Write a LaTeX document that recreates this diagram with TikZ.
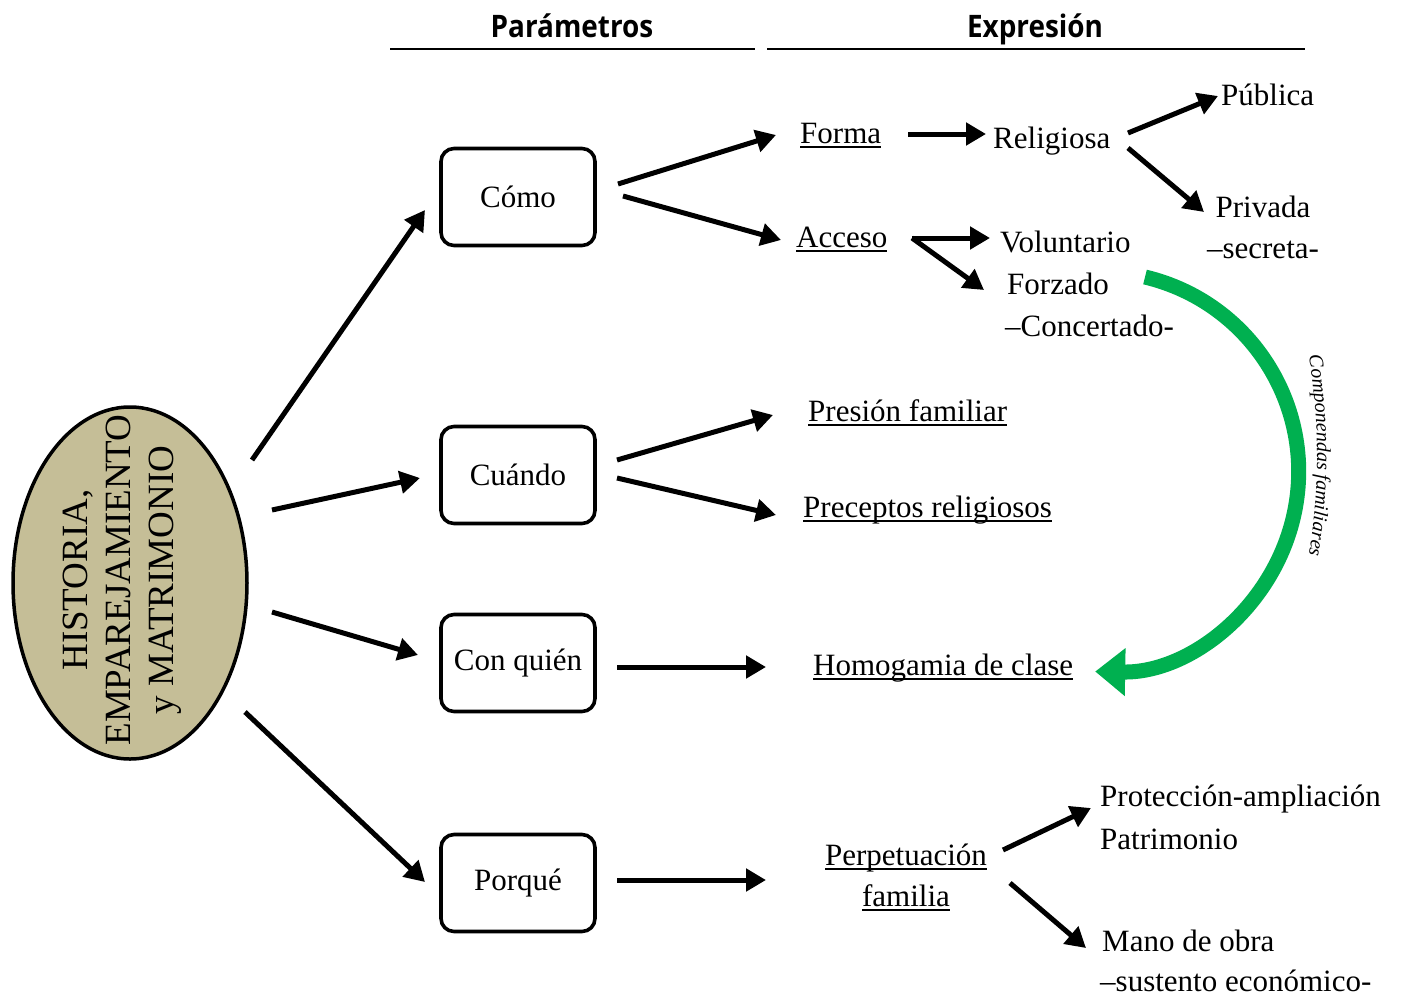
\documentclass[tikz,border=0pt]{standalone}
\usepackage{fontspec}
\setmainfont{Liberation Serif}
\newfontfamily\hdrfont{Open Sans}
\usetikzlibrary{arrows.meta,shapes.geometric,decorations.text}
\definecolor{elltan}{RGB}{197,190,151}
\definecolor{grn}{RGB}{0,176,80}
\newcommand\myul[1]{\setbox0\hbox{#1}\rlap{\rule[-5pt]{\wd0}{1.6pt}}\box0}
\begin{document}
\begin{tikzpicture}[x=1pt,y=-1pt,
  txt/.style={font=\fontsize{31}{37}\selectfont, inner sep=0pt, anchor=base west},
  ctxt/.style={font=\fontsize{31}{37}\selectfont, inner sep=0pt, anchor=base},
  box/.style={draw, line width=3.6pt, rounded corners=13pt, minimum width=154pt,
    minimum height=97pt, inner sep=0pt, font=\fontsize{31}{37}\selectfont},
  hdr/.style={font=\hdrfont\bfseries\fontsize{31}{36}\selectfont, inner sep=0pt, anchor=base},
  arr/.style={line width=5pt, -{Triangle[length=20pt,width=22pt]}},
  garr/.style={line width=15pt, grn, -{Triangle[length=30pt,width=46pt]}},
]
\fill[white] (0,0) rectangle (1408,996);
\useasboundingbox (0,0) rectangle (1408,996);

% headers
\node[hdr] (hpar) at (572,37) {\scalebox{0.9}[1]{Parámetros}};
\node[hdr] (hexp) at (1035,37) {\scalebox{0.9}[1]{Expresión}};
\draw[line width=1.3pt] (390,49) -- (755,49);
\draw[line width=1.3pt] (767,49) -- (1305,49);

% ellipse
\node[ellipse, draw, line width=3.5pt, fill=elltan, minimum width=234pt,
  minimum height=352pt, inner sep=0pt] (ell) at (130,583) {};
\node[rotate=90, align=center, inner sep=0pt, font=\fontsize{37}{43}\selectfont]
  (elltxt) at (122,580) {HISTORIA,\\EMPAREJAMIENTO\\y MATRIMONIO};

% boxes
\node[box] (como) at (518,197) {Cómo};
\node[box] (cuando) at (518,475) {Cuándo};
\node[box] (conq) at (518,663) {Con quién};
\node[box] (porq) at (518,883) {Porqué};

% text nodes
\node[txt] (forma) at (800,143) {\myul{Forma}};
\node[txt] (acceso) at (796,247) {\myul{Acceso}};
\node[txt] (relig) at (993,148) {Religiosa};
\node[txt] (publica) at (1221,105) {Pública};
\node[ctxt] (privada) at (1263,217) {Privada};
\node[ctxt] (secreta) at (1263,258) {–secreta-};
\node[txt] (volunt) at (1000,252) {Voluntario};
\node[txt] (forzado) at (1007,294) {Forzado};
\node[txt] (concert) at (1005,336) {–Concertado-};
\node[txt] (presion) at (808,421) {\myul{Presión familiar}};
\node[txt] (precept) at (803,517) {\myul{Preceptos religiosos}};
\node[txt] (homog) at (813,675) {\myul{Homogamia de clase}};
\node[ctxt] (perp) at (906,865) {\myul{Perpetuación}};
\node[ctxt] (familia) at (906,906) {\myul{familia}};
\node[txt] (protec) at (1100,806) {Protección-ampliación};
\node[txt] (patrim) at (1100,849) {Patrimonio};
\node[txt] (mano) at (1102,951) {Mano de obra};
\node[txt] (sust) at (1100,991) {–sustento económico-};

% arrows from ellipse
\draw[arr] ([shift={(122,-123)}]ell.center) -- ([shift={(-93,13)}]como.center);
\draw[arr] ([shift={(142,-73)}]ell.center) -- ([shift={(-98,3)}]cuando.center);
\draw[arr] ([shift={(142,29)}]ell.center) -- ([shift={(-100,-8)}]conq.center);
\draw[arr] ([shift={(115,129)}]ell.center) -- ([shift={(-93,-1)}]porq.center);

% Como
\draw[arr] ([shift={(100,-13)}]como.center) -- ([shift={(-24,-8)}]forma.base west);
\draw[arr] ([shift={(105,-1)}]como.center) -- ([shift={(-15,-7)}]acceso.base west);
\draw[arr] ([shift={(108,-9)}]forma.base west) -- ([shift={(-7,-14)}]relig.base west);
\draw[arr] ([shift={(135,-15)}]relig.base west) -- ([shift={(-3,-9)}]publica.base west);
\draw[arr] ([shift={(135,0)}]relig.base west) -- ([shift={(-59,-5)}]privada.base);
\draw[arr] ([shift={(116,-9)}]acceso.base west) -- ([shift={(-10,-14)}]volunt.base west);
\draw[arr] ([shift={(116,-9)}]acceso.base west) -- ([shift={(-23,-4)}]forzado.base west);

% Cuando
\draw[arr] ([shift={(99,-15)}]cuando.center) -- ([shift={(-35,-6)}]presion.base west);
\draw[arr] ([shift={(99,3)}]cuando.center) -- ([shift={(-27,-2)}]precept.base west);

% Con quien
\draw[arr] ([shift={(99,4)}]conq.center) -- ([shift={(-47,-8)}]homog.base west);

% Porque
\draw[arr] ([shift={(99,-3)}]porq.center) -- ([shift={(-140,15)}]perp.base);
\draw[arr] ([shift={(97,-15)}]perp.base) -- ([shift={(-9,2)}]protec.base west);
\draw[arr] ([shift={(104,18)}]perp.base) -- ([shift={(-16,-3)}]mano.base west);

% green arc
\coordinate (gs) at (1145,277);
\draw[garr] (gs) arc[start angle=76.6, end angle=-91, radius=200pt];
\coordinate (ts) at (1304,331);
\path[decorate, decoration={text along path, text align=center,
  text={|\itshape\fontsize{20}{24}\selectfont|Componendas familiares}}]
  (ts) arc[start angle=12, end angle=-12, radius=600pt];
\end{tikzpicture}
\end{document}
